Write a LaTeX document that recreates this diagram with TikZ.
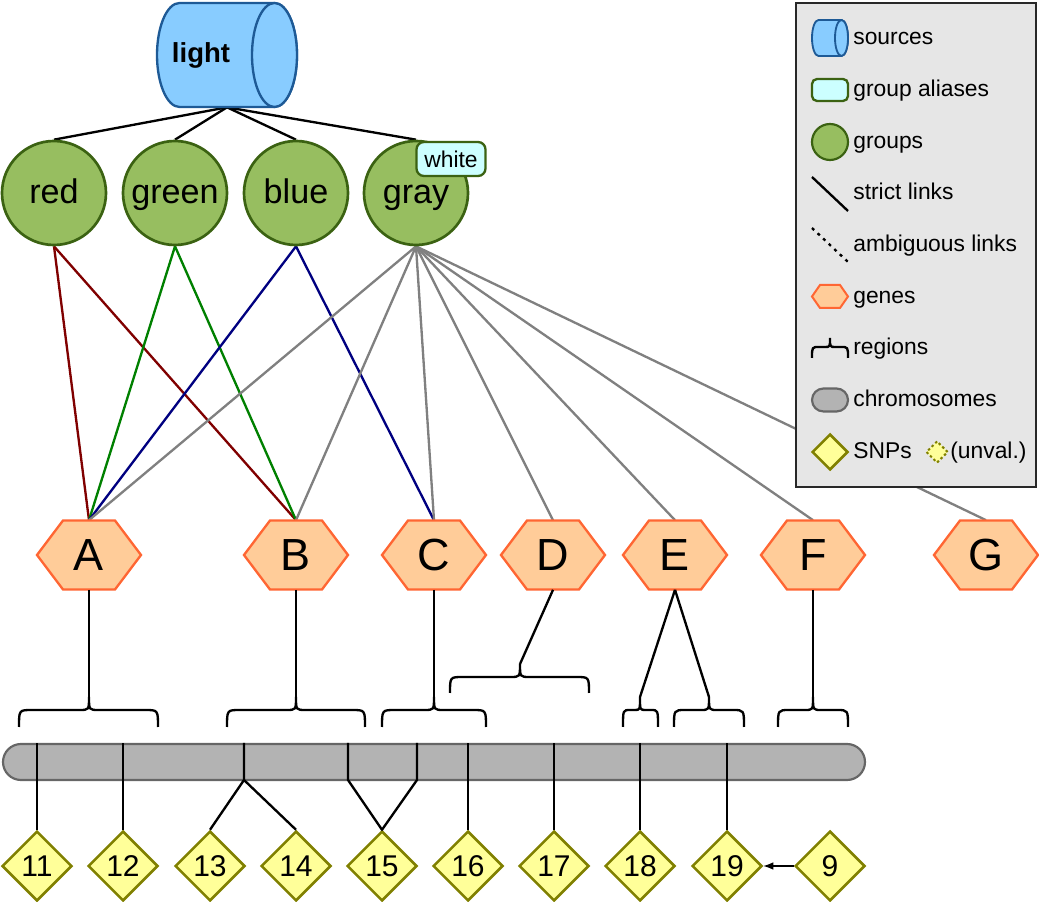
\documentclass[tikz,border=0pt]{standalone}
\usepackage{fontspec}
\setmainfont{Liberation Sans}
\usetikzlibrary{shapes.geometric,arrows.meta}

% one drawing unit in pt
\def\pxu{0.6pt}

\definecolor{srcfill}{RGB}{136,204,255}
\definecolor{srcline}{RGB}{30,90,150}
\definecolor{grpfill}{RGB}{151,190,96}
\definecolor{grpline}{RGB}{59,98,18}
\definecolor{aliasfill}{RGB}{204,255,255}
\definecolor{genefill}{RGB}{255,204,153}
\definecolor{geneline}{RGB}{255,102,51}
\definecolor{chrfill}{RGB}{179,179,179}
\definecolor{chrline}{RGB}{102,102,102}
\definecolor{snpfill}{RGB}{255,255,153}
\definecolor{snpline}{RGB}{128,128,0}
\definecolor{legfill}{RGB}{230,230,230}
\definecolor{legline}{RGB}{40,40,40}
\definecolor{lkred}{RGB}{128,0,0}
\definecolor{lkgreen}{RGB}{0,128,0}
\definecolor{lkblue}{RGB}{0,0,128}
\definecolor{lkgray}{RGB}{128,128,128}

\pgfdeclarelayer{links}
\pgfsetlayers{links,main}

\tikzset{
  link/.style={line width=1.4pt},
  strictlink/.style={link, black},
  cylbody/.style={draw=srcline, fill=srcfill, line width=1.4pt, line join=round},
  grp/.style={circle, draw=grpline, fill=grpfill, line width=1.6pt,
    minimum size=104*\pxu, inner sep=0pt, text height=16.4pt, text depth=4.1pt,
    font=\fontsize{20.5}{24}\selectfont},
  aliasbox/.style={rectangle, rounded corners=4.5pt, draw=grpline, fill=aliasfill,
    line width=1.4pt, minimum width=69*\pxu, minimum height=34*\pxu, inner sep=0pt,
    font=\fontsize{13.7}{16}\selectfont},
  genehex/.style={draw=geneline, fill=genefill, line width=1.4pt},
  genelabel/.style={rectangle, minimum width=104*\pxu, minimum height=69*\pxu,
    inner sep=0pt, font=\fontsize{27}{30}\selectfont},
  chrom/.style={rectangle, rounded corners=10.8pt, draw=chrline, fill=chrfill,
    line width=1.3pt, inner sep=0pt},
  snp/.style={diamond, draw=snpline, fill=snpfill, line width=1.5pt,
    minimum width=70*\pxu, minimum height=70*\pxu, inner sep=0pt,
    font=\fontsize{18}{20}\selectfont},
  legbox/.style={draw=legline, fill=legfill, line width=1.3pt},
  legtext/.style={anchor=west, inner sep=0pt, text height=10.3pt, text depth=2.7pt,
    font=\fontsize{13.7}{16}\selectfont},
}

% cylinder lying on its side: centre x, centre y, half length, y radius, cap x radius, options
\newcommand\srccyl[6]{%
  \filldraw[cylbody,#6] ({#1-#3+#5},{#2-#4}) -- ({#1+#3-#5},{#2-#4})
    arc[start angle=-90, end angle=90, x radius=#5, y radius=#4]
    -- ({#1-#3+#5},{#2+#4})
    arc[start angle=90, end angle=270, x radius=#5, y radius=#4] -- cycle;
  \draw[cylbody,#6] ({#1+#3-#5},#2) ellipse[x radius=#5, y radius=#4];
}

% flat hexagon: centre x, centre y, half width, half height, half top edge, options
\newcommand\hexpath[6]{%
  \filldraw[genehex,#6] ({#1-#3},#2) -- ({#1-#5},{#2-#4}) -- ({#1+#5},{#2-#4})
    -- ({#1+#3},#2) -- ({#1+#5},{#2+#4}) -- ({#1-#5},{#2+#4}) -- cycle;
}

% region brace: tip name, left, tip x, right, bar y, end drop, tip rise, corner size
\newcommand\regionbrace[8]{%
  \draw[strictlink] (#2,#5+#6) .. controls (#2,#5) .. (#2+#8,#5)
    -- (#3-0.75*#8,#5) .. controls (#3,#5) .. (#3,#5-#7)
    .. controls (#3,#5) .. (#3+0.75*#8,#5)
    -- (#4-#8,#5) .. controls (#4,#5) .. (#4,#5+#6);
  \coordinate (#1) at (#3,#5-#7);
}

\begin{document}
\begin{tikzpicture}[x=0.6pt, y=-0.6pt]
\useasboundingbox (0,0) rectangle (1039,902);

% source
\srccyl{227}{55}{70}{52}{22.5}{}
\node[minimum width=140*\pxu, minimum height=104*\pxu, inner sep=0pt] (src) at (227,55) {};
\node[font=\bfseries\fontsize{16.5}{20}\selectfont, inner sep=0pt] (light) at (201,55) {light};

% groups
\node[grp] (red)   at (54,193)  {red};
\node[grp] (green) at (175,193) {green};
\node[grp] (blue)  at (296,193) {blue};
\node[grp] (gray)  at (416,193) {gray};
\node[aliasbox] (white) at (451,159) {white};

% genes
\foreach \g/\x in {A/89,B/296,C/434,D/553,E/675,F/813,G/986}{
  \hexpath{\x}{555}{52}{34.5}{26}{}
  \node[genelabel] (\g) at (\x,555) {\g};
}

% links between source, groups and genes
\begin{pgfonlayer}{links}
  \foreach \grp in {red,green,blue,gray}
    \draw[strictlink] (src.south) -- (\grp.north);
  \draw[link, lkred] (red.south) -- (A.north);
  \draw[link, lkred] (red.south) -- (B.north);
  \draw[link, lkgreen] (green.south) -- (A.north);
  \draw[link, lkgreen] (green.south) -- (B.north);
  \draw[link, lkblue] (blue.south) -- (A.north);
  \draw[link, lkblue] (blue.south) -- (C.north);
  \foreach \g in {A,B,C,D,E,F,G}
    \draw[link, lkgray] (gray.south) -- (\g.north);
\end{pgfonlayer}

% regions
\regionbrace{rA}{19}{89}{158}{710}{17}{13}{13}
\regionbrace{rB}{227}{296}{365}{710}{17}{13}{13}
\regionbrace{rC}{382}{434}{486}{710}{17}{13}{13}
\regionbrace{rD}{450}{520}{589}{677}{16}{13}{13}
\regionbrace{rEa}{623}{640}{658}{710}{17}{13}{7}
\regionbrace{rEb}{674}{709}{744}{710}{17}{13}{11}
\regionbrace{rF}{778}{813}{848}{710}{17}{13}{11}

\draw[strictlink] (A.south) -- (rA);
\draw[strictlink] (B.south) -- (rB);
\draw[strictlink] (C.south) -- (rC);
\draw[strictlink] (D.south) -- (rD);
\draw[strictlink] (E.south) -- (rEa);
\draw[strictlink] (E.south) -- (rEb);
\draw[strictlink] (F.south) -- (rF);

% chromosome and SNPs
\node[chrom, minimum width=862*\pxu, minimum height=36*\pxu] (chr) at (434,762) {};
\foreach \n/\x in {11/37,12/123,13/210,14/296,15/382,16/468,17/554,18/640,19/727,9/830}
  \node[snp] (s\n) at (\x,866) {\n};

\foreach \n in {11,12,16,17,18,19}
  \draw[strictlink] (s\n.north) -- (s\n.north |- chr.north);
\coordinate (p13) at (244,780);
\draw[strictlink] (s13.north) -- (p13) -- (p13 |- chr.north);
\draw[strictlink] (s14.north) -- (p13);
\coordinate (p15a) at (348,780);
\coordinate (p15b) at (417,780);
\draw[strictlink, line join=round] (p15a |- chr.north) -- (p15a) -- (s15.north) -- (p15b) -- (p15b |- chr.north);

\draw[line width=0.7pt, -{Latex[length=6pt, width=4.5pt]}] (s9.west) -- (s19.east);

% legend
\draw[legbox] (796,3) rectangle (1036,487);
\srccyl{830}{38}{18}{18}{6.5}{line width=1.1pt}
\node[aliasbox, minimum width=36*\pxu, minimum height=22*\pxu, rounded corners=3pt] (legalias) at (830,90) {};
\node[grp, minimum size=36*\pxu, line width=1.3pt] (leggrp) at (830,142) {};
\coordinate (lsa) at (812,177);
\coordinate (lsb) at (848,211);
\draw[strictlink] (lsa) -- (lsb);
\coordinate (laa) at (812,228);
\coordinate (lab) at (848,262);
\draw[strictlink, dash pattern=on 1.8pt off 2.8pt] (laa) -- (lab);
\hexpath{830}{296.5}{18}{11.5}{10}{line width=1.2pt}
\regionbrace{legreg}{812}{830}{848}{347}{11}{9}{7}
\node[chrom, minimum width=36*\pxu, minimum height=23*\pxu, rounded corners=6.9pt] (legchr) at (830,400) {};
\node[snp, minimum width=36*\pxu, minimum height=36*\pxu] (legsnp) at (830,452) {};
\node[snp, minimum width=22*\pxu, minimum height=22*\pxu, line width=1.2pt, dash pattern=on 1.5pt off 1.5pt] (legunval) at (937,452) {};

\node[legtext] (tsrc) at (853,38)  {sources};
\node[legtext] (tali) at (853,90)  {group aliases};
\node[legtext] (tgrp) at (853,142) {groups};
\node[legtext] (tstr) at (853,193) {strict links};
\node[legtext] (tamb) at (853,245) {ambiguous links};
\node[legtext] (tgen) at (853,297) {genes};
\node[legtext] (treg) at (853,348) {regions};
\node[legtext] (tchr) at (853,400) {chromosomes};
\node[legtext] (tsnp) at (853,452) {SNPs};
\node[legtext] (tunv) at (950,452) {(unval.)};
\end{tikzpicture}
\end{document}
